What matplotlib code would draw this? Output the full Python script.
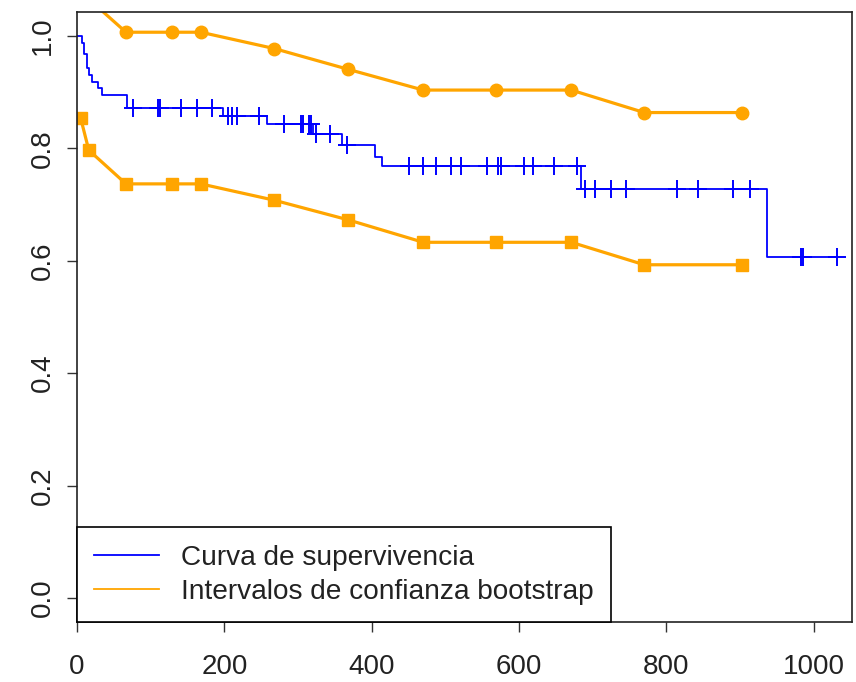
import matplotlib.pyplot as plt
import numpy as np

plt.rcParams['font.family'] = ['Liberation Sans', 'DejaVu Sans']

# Kaplan-Meier curve: times at which the estimate drops and the level after the drop
t_salto = [0, 7, 9.5, 13, 16, 21, 29, 34, 67.5, 198, 258.5, 320.5, 359.5, 404.5, 413.5, 684, 937, 1032]
surv = [1.0, 0.987, 0.968, 0.943, 0.931, 0.919, 0.907, 0.895, 0.8725, 0.858, 0.844, 0.826, 0.806,
        0.785, 0.769, 0.727, 0.606, 0.606]

# censored observations
t_censura = [75.5, 109.5, 112.5, 141, 162.5, 183, 205.5, 211, 217, 247.5, 281.5, 304, 307, 315, 318,
             324.5, 343.5, 366, 450, 469.5, 487.5, 507.5, 521.5, 557, 571, 575.5, 607, 619, 648,
             678.5, 690, 702.5, 725, 745, 814, 843.5, 891, 913, 983, 986, 1031.5]

# bootstrap confidence bands
t_ic = [5, 16, 66.5, 129, 168, 267.5, 368, 470, 569, 671, 770, 903]
ic_sup = [1.12, 1.066, 1.007, 1.007, 1.007, 0.978, 0.941, 0.904, 0.904, 0.904, 0.864, 0.864]
ic_inf = [0.854, 0.797, 0.737, 0.737, 0.737, 0.708, 0.673, 0.633, 0.633, 0.633, 0.593, 0.593]

fig = plt.figure(figsize=(8.56, 6.82), dpi=100)
ax = fig.add_axes([77/856, 1 - 622/682, 775/856, 610/682])

ax.step(t_salto, surv, where='post', color='blue', lw=1.3)
# level of the curve at each censoring time
idx = np.searchsorted(t_salto, t_censura, side='right') - 1
ax.plot(t_censura, np.array(surv)[idx], ls='none', marker='+', ms=13, mew=1.4, color='blue')

ax.plot(t_ic, ic_sup, color='orange', lw=2.3, marker='o', ms=9)
ax.plot(t_ic, ic_inf, color='orange', lw=2.3, marker='s', ms=8)

ax.set_xlim(0, 1052)
ax.set_ylim(-0.043, 1.043)
ax.set_xticks(np.arange(0, 1001, 200))
ax.set_yticks(np.arange(0, 1.01, 0.2))
ax.set_yticklabels([f'{v:.1f}' for v in np.arange(0, 1.01, 0.2)], rotation=90, va='center')
ax.tick_params(labelsize=20, length=7, width=1, color='#333333', labelcolor='#222222')
ax.tick_params(axis='x', pad=16)
ax.tick_params(axis='y', pad=8)
for s in ax.spines.values():
    s.set_linewidth(1.2)
    s.set_color('#222222')

h1 = plt.Line2D([], [], color='blue', lw=1.3)
h2 = plt.Line2D([], [], color='orange', lw=1.3)
leg = ax.legend([h1, h2], ['Curva de supervivencia', 'Intervalos de confianza bootstrap'],
                loc='lower left', borderaxespad=0, fancybox=False, fontsize=20.2,
                handlelength=2.3, handletextpad=0.8, borderpad=0.62, labelspacing=0.28,
                edgecolor='black', framealpha=1)
leg.get_frame().set_linewidth(1.2)
for txt in leg.get_texts():
    txt.set_color('#222222')

fig.savefig('out.png', dpi=100)
